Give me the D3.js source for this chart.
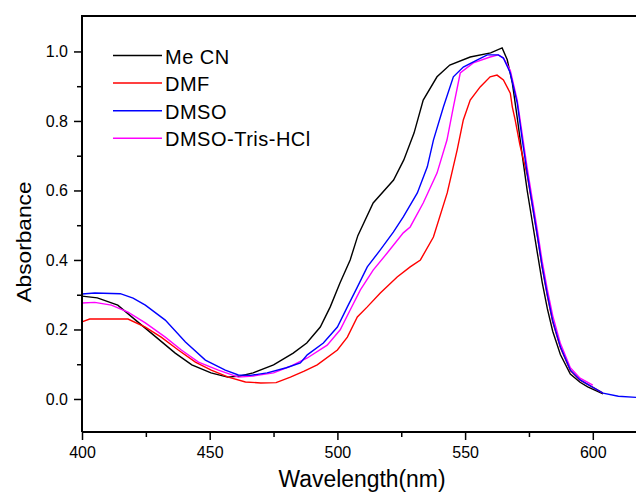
<!DOCTYPE html>
<html>
<head>
<meta charset="utf-8">
<script src="https://cdn.jsdelivr.net/npm/d3@7/dist/d3.min.js"></script>
<style>
  html, body { margin: 0; padding: 0; background: #fff; }
  svg { display: block; font-family: Arial, "Liberation Sans", sans-serif; }
</style>
</head>
<body>
<svg id="chart" width="636" height="493"></svg>
<script>
const seriesNames = ["Me CN", "DMF", "DMSO", "DMSO-Tris-HCl"];
const seriesColors = ["#000000", "#ff0000", "#0000ff", "#ff00ff"];

const mecnWl = [400, 406, 414, 421, 429, 436.5, 443, 450.5, 457, 462, 467, 475, 482.7, 488, 493.3, 497.2, 501, 505, 508, 514, 522, 526, 530, 533.6, 539, 544, 552, 560, 564.5, 566.5, 568.5, 570.4, 572.4, 574.3, 576.3, 578.3, 580.2, 582.2, 584.3, 587.3, 591.2, 595, 598, 604];
const mecnAbs = [0.296, 0.291, 0.270, 0.227, 0.178, 0.132, 0.098, 0.075, 0.063, 0.066, 0.075, 0.098, 0.132, 0.161, 0.207, 0.265, 0.334, 0.400, 0.470, 0.564, 0.630, 0.688, 0.765, 0.860, 0.927, 0.961, 0.984, 0.996, 1.010, 0.976, 0.909, 0.810, 0.700, 0.600, 0.510, 0.420, 0.335, 0.260, 0.195, 0.128, 0.072, 0.048, 0.035, 0.015];

const dmfWl = [400, 403, 418, 424.8, 431, 437.7, 444.4, 450.6, 457.3, 464, 470, 476, 481.6, 487, 492.1, 500, 503.9, 507.8, 511.7, 516.8, 523.4, 528.5, 532.5, 537.6, 543, 546.9, 549.3, 552, 555.9, 559.8, 562.5, 565, 567.7, 568.5, 569.6, 571.5, 574.3, 576.3, 578.3, 580.2, 582.2, 584.3, 587.3, 591.2, 595, 598, 604];
const dmfAbs = [0.222, 0.230, 0.230, 0.207, 0.178, 0.141, 0.106, 0.083, 0.063, 0.049, 0.046, 0.047, 0.063, 0.080, 0.098, 0.141, 0.178, 0.236, 0.265, 0.305, 0.351, 0.380, 0.400, 0.466, 0.593, 0.717, 0.803, 0.860, 0.898, 0.927, 0.932, 0.918, 0.880, 0.840, 0.803, 0.730, 0.645, 0.558, 0.468, 0.378, 0.297, 0.222, 0.148, 0.082, 0.054, 0.042, 0.017];

const dmsoWl = [400, 405, 415, 420, 424.8, 432.6, 440.5, 448.3, 456.1, 461.2, 466, 472.5, 480, 485.5, 488.2, 494.5, 500, 503.9, 507.8, 511.7, 516.8, 521.9, 525.8, 531.3, 535.2, 537.6, 541.5, 545.4, 549.3, 554.8, 558.7, 563, 565, 567.7, 570.4, 572.4, 574.3, 576.3, 578.3, 580.2, 582.2, 584.3, 587.3, 591.2, 595, 598, 604, 610, 618];
const dmsoAbs = [0.302, 0.305, 0.303, 0.290, 0.270, 0.227, 0.164, 0.112, 0.083, 0.069, 0.068, 0.075, 0.090, 0.104, 0.127, 0.161, 0.207, 0.265, 0.322, 0.380, 0.429, 0.480, 0.524, 0.593, 0.668, 0.745, 0.840, 0.927, 0.955, 0.976, 0.990, 0.990, 0.981, 0.938, 0.852, 0.745, 0.650, 0.560, 0.470, 0.380, 0.300, 0.225, 0.150, 0.083, 0.055, 0.042, 0.017, 0.008, 0.004];

const trisWl = [400, 405, 411.5, 418, 424.8, 432.6, 438.9, 445.6, 453.4, 461.2, 467, 475, 482, 488.2, 496, 501.1, 505, 509, 514, 519.5, 525.8, 528.5, 533.6, 539, 542.9, 545.4, 548.1, 553.2, 559.8, 563, 565, 567.7, 570.4, 572.4, 574.3, 576.3, 578.3, 580.2, 582.2, 584.3, 587.3, 591.2, 595, 600];
const trisAbs = [0.276, 0.278, 0.270, 0.250, 0.219, 0.178, 0.141, 0.106, 0.083, 0.063, 0.066, 0.075, 0.095, 0.118, 0.155, 0.199, 0.256, 0.314, 0.371, 0.420, 0.478, 0.495, 0.564, 0.650, 0.745, 0.840, 0.938, 0.967, 0.984, 0.990, 0.981, 0.945, 0.860, 0.760, 0.665, 0.575, 0.485, 0.395, 0.315, 0.240, 0.160, 0.090, 0.060, 0.040];

const xMajorTicks = [400, 450, 500, 550, 600];
const xMinorTicks = [425, 475, 525, 575];
const yMajorTicks = [0.0, 0.2, 0.4, 0.6, 0.8, 1.0];
const yMinorTicks = [0.1, 0.3, 0.5, 0.7, 0.9];

const svg = d3.select("#chart");
const plotLeft = 82, plotTop = 16, plotBottom = 432;

const x = d3.scaleLinear().domain([400, 622]).range([plotLeft, plotLeft + 222 * 2.554]);
const y = d3.scaleLinear().domain([-0.095, 1.102]).range([plotBottom, plotTop]);

svg.append("rect").attr("width", 636).attr("height", 493).attr("fill", "#fff");

// curves, blue last so its tail stays on top
const series = [
  { name: seriesNames[0], color: seriesColors[0], wl: mecnWl, abs: mecnAbs },
  { name: seriesNames[1], color: seriesColors[1], wl: dmfWl, abs: dmfAbs },
  { name: seriesNames[3], color: seriesColors[3], wl: trisWl, abs: trisAbs },
  { name: seriesNames[2], color: seriesColors[2], wl: dmsoWl, abs: dmsoAbs },
];

const line = d3.line().x((d) => x(d[0])).y((d) => y(d[1]));

svg.append("g")
  .selectAll("path")
  .data(series)
  .join("path")
  .attr("fill", "none")
  .attr("stroke", (d) => d.color)
  .attr("stroke-width", 1.4)
  .attr("d", (d) => line(d.wl.map((w, i) => [w, d.abs[i]])));

// axes
svg.append("g").attr("transform", `translate(0,${plotBottom})`)
  .call(d3.axisBottom(x).tickValues(xMajorTicks).tickSize(8).tickPadding(7).tickFormat(d3.format("d")));
svg.append("g").attr("transform", `translate(0,${plotBottom})`)
  .call(d3.axisBottom(x).tickValues(xMinorTicks).tickSize(5).tickFormat(""));
svg.append("g").attr("transform", `translate(${plotLeft},0)`)
  .call(d3.axisLeft(y).tickValues(yMajorTicks).tickSize(8).tickPadding(6).tickFormat(d3.format(".1f")));
svg.append("g").attr("transform", `translate(${plotLeft},0)`)
  .call(d3.axisLeft(y).tickValues(yMinorTicks).tickSize(5).tickFormat(""));

svg.selectAll(".domain").remove();
svg.selectAll(".tick line").attr("stroke", "#000").attr("stroke-width", 1.5);
svg.selectAll(".tick text").attr("font-size", 16).attr("font-family", "Arial, 'Liberation Sans', sans-serif").attr("fill", "#000");

// frame
svg.append("path")
  .attr("d", `M${plotLeft},${plotBottom} L${plotLeft},${plotTop} L640,${plotTop} M${plotLeft},${plotBottom} L640,${plotBottom}`)
  .attr("fill", "none").attr("stroke", "#000").attr("stroke-width", 2);

// axis titles
svg.append("text")
  .attr("transform", `translate(31,242) rotate(-90)`)
  .attr("text-anchor", "middle")
  .attr("font-size", 20)
  .attr("textLength", 121)
  .attr("lengthAdjust", "spacingAndGlyphs")
  .text("Absorbance");

svg.append("text")
  .attr("x", 362).attr("y", 487)
  .attr("text-anchor", "middle")
  .attr("font-size", 23)
  .attr("textLength", 167)
  .attr("lengthAdjust", "spacingAndGlyphs")
  .text("Wavelength(nm)");

// legend
const legendOrder = [0, 1, 2, 3];
const legend = svg.append("g");
legend.selectAll("line")
  .data(legendOrder)
  .join("line")
  .attr("x1", 113).attr("x2", 162)
  .attr("y1", (i) => 55.5 + i * 27.6).attr("y2", (i) => 55.5 + i * 27.6)
  .attr("stroke", (i) => seriesColors[i])
  .attr("stroke-width", 1.5);
legend.selectAll("text")
  .data(legendOrder)
  .join("text")
  .attr("x", 165)
  .attr("y", (i) => 55.5 + i * 27.6 + 8)
  .attr("font-size", 20)
  .attr("letter-spacing", 0.5)
  .text((i) => seriesNames[i]);
</script>
</body>
</html>
